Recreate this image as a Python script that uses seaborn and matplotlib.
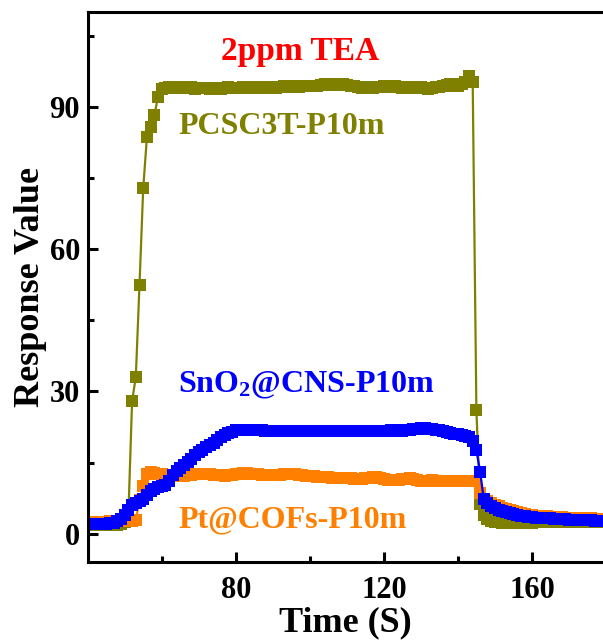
import matplotlib
matplotlib.use('Agg')
import matplotlib.pyplot as plt
import seaborn as sns

# ---------------- data ----------------
TIME_S = [
    41, 42, 43, 44, 45, 46, 47, 48, 49, 50,
    51, 52, 53, 54, 55, 56, 57, 58, 59, 60,
    61, 62, 63, 64, 65, 66, 67, 68, 69, 70,
    71, 72, 73, 74, 75, 76, 77, 78, 79, 80,
    81, 82, 83, 84, 85, 86, 87, 88, 89, 90,
    91, 92, 93, 94, 95, 96, 97, 98, 99, 100,
    101, 102, 103, 104, 105, 106, 107, 108, 109, 110,
    111, 112, 113, 114, 115, 116, 117, 118, 119, 120,
    121, 122, 123, 124, 125, 126, 127, 128, 129, 130,
    131, 132, 133, 134, 135, 136, 137, 138, 139, 140,
    141, 142, 143, 144, 145, 146, 147, 148, 149, 150,
    151, 152, 153, 154, 155, 156, 157, 158, 159, 160,
    161, 162, 163, 164, 165, 166, 167, 168, 169, 170,
    171, 172, 173, 174, 175, 176, 177, 178, 179, 180,
]

PCSC3T = [
    1.8, 1.8, 1.8, 1.8, 1.8, 1.8, 1.9, 1.9, 2.0, 2.5,
    4.1, 28.0, 33.0, 52.5, 72.8, 83.6, 85.8, 88.3, 92.0, 93.8,
    94.0, 94.1, 93.9, 94.0, 94.1, 93.9, 94.0, 94.1, 93.8, 94.0,
    93.9, 94.0, 93.8, 93.9, 94.0, 93.8, 93.9, 94.1, 93.9, 94.0,
    93.9, 94.1, 94.0, 93.9, 94.1, 94.2, 94.0, 93.9, 94.1, 94.2,
    94.0, 94.1, 94.3, 94.2, 94.4, 94.3, 94.2, 94.3, 94.5, 94.4,
    94.3, 94.5, 94.6, 94.8, 94.7, 94.9, 94.8, 94.7, 94.8, 94.6,
    94.5, 94.3, 94.2, 94.0, 94.1, 93.9, 94.0, 94.2, 94.1, 94.3,
    94.2, 94.1, 94.3, 94.2, 94.0, 94.1, 94.2, 93.9, 94.0, 94.1,
    93.9, 93.8, 94.0, 94.2, 94.1, 94.3, 94.6, 94.8, 94.5, 94.4,
    94.9, 95.3, 96.5, 95.3, 26.0, 6.3, 4.0, 3.0, 2.6, 2.4,
    2.4, 2.3, 2.3, 2.3, 2.3, 2.3, 2.3, 2.3, 2.3, 2.3,
    2.35, 2.35, 2.35, 2.35, 2.35, 2.35, 2.4, 2.4, 2.4, 2.4,
    2.5, 2.5, 2.5, 2.5, 2.5, 2.5, 2.5, 2.5, 2.5, 2.5,
]

PT_COFS = [
    2.5, 2.5, 2.5, 2.5, 2.5, 2.6, 2.6, 2.6, 2.6, 2.7,
    2.7, 2.7, 2.8, 7.0, 10.1, 12.6, 12.9, 12.7, 12.6, 12.5,
    12.4, 12.4, 12.3, 12.3, 12.2, 12.2, 12.3, 12.4, 12.5, 12.6,
    12.6, 12.5, 12.5, 12.4, 12.3, 12.3, 12.2, 12.3, 12.4, 12.5,
    12.6, 12.7, 12.7, 12.6, 12.6, 12.5, 12.4, 12.4, 12.3, 12.3,
    12.4, 12.4, 12.5, 12.6, 12.6, 12.5, 12.4, 12.3, 12.2, 12.1,
    12.1, 12.0, 12.0, 11.9, 11.9, 11.8, 11.8, 11.7, 11.7, 11.7,
    11.7, 11.6, 11.6, 11.6, 11.7, 11.8, 11.9, 11.9, 11.7, 11.5,
    11.4, 11.3, 11.3, 11.4, 11.5, 11.6, 11.7, 11.5, 11.3, 11.2,
    11.2, 11.2, 11.3, 11.2, 11.2, 11.1, 11.1, 11.2, 11.1, 11.1,
    11.2, 11.2, 11.1, 11.1, 11.0, 8.6, 7.3, 6.8, 6.4, 6.1,
    5.8, 5.4, 5.1, 4.9, 4.7, 4.5, 4.3, 4.15, 4.0, 3.9,
    3.8, 3.75, 3.7, 3.65, 3.6, 3.55, 3.5, 3.45, 3.4, 3.35,
    3.3, 3.3, 3.25, 3.25, 3.2, 3.2, 3.15, 3.15, 3.1, 3.1,
]

SNO2_CNS = [
    2.0, 2.0, 2.0, 2.1, 2.1, 2.2, 2.3, 2.6, 3.0, 3.9,
    5.0, 6.1, 6.5, 6.9, 7.3, 8.1, 8.9, 9.4, 9.8, 10.0,
    10.2, 11.2, 12.3, 13.2, 13.9, 14.4, 15.1, 15.8, 16.5, 17.2,
    17.7, 18.2, 18.6, 19.2, 19.8, 20.4, 20.8, 21.2, 21.5, 21.8,
    21.9, 21.9, 21.9, 21.9, 21.8, 21.8, 21.8, 21.7, 21.7, 21.7,
    21.7, 21.7, 21.7, 21.6, 21.6, 21.6, 21.6, 21.7, 21.7, 21.7,
    21.7, 21.7, 21.6, 21.6, 21.6, 21.7, 21.7, 21.7, 21.7, 21.6,
    21.6, 21.6, 21.7, 21.7, 21.7, 21.7, 21.6, 21.6, 21.7, 21.7,
    21.7, 21.8, 21.8, 21.7, 21.7, 21.8, 21.9, 22.0, 22.1, 22.2,
    22.2, 22.1, 22.0, 21.9, 21.8, 21.6, 21.4, 21.2, 21.1, 21.0,
    20.8, 20.6, 20.3, 19.6, 17.6, 13.1, 7.2, 6.4, 5.8, 5.4,
    5.0, 4.75, 4.5, 4.3, 4.1, 3.95, 3.8, 3.7, 3.6, 3.5,
    3.4, 3.35, 3.3, 3.25, 3.2, 3.15, 3.1, 3.05, 3.0, 2.95,
    2.9, 2.9, 2.85, 2.85, 2.8, 2.8, 2.75, 2.75, 2.7, 2.7,
]

SERIES_NAMES = ["PCSC3T-P10m", "Pt@COFs-P10m", "SnO$_2$@CNS-P10m"]
SERIES_COLORS = ["#808000", "#FF8000", "#0000FF"]
TITLE_TEXT = "2ppm TEA"
X_LABEL = "Time (S)"
Y_LABEL = "Response Value"
X_TICKS = [80, 120, 160]
X_MINOR = [60, 100, 140]
Y_TICKS = [0, 30, 60, 90]
Y_MINOR = [15, 45, 75, 105]

# ---------------- style ----------------
sns.set_theme(style="white")
plt.rcParams["font.family"] = ["Liberation Serif", "DejaVu Serif"]
plt.rcParams["font.weight"] = "bold"
plt.rcParams["text.color"] = "black"
plt.rcParams["axes.labelcolor"] = "black"
plt.rcParams["xtick.color"] = "black"
plt.rcParams["ytick.color"] = "black"
plt.rcParams["mathtext.fontset"] = "custom"
plt.rcParams["mathtext.rm"] = "Liberation Serif:bold"
plt.rcParams["mathtext.it"] = "Liberation Serif:bold"
plt.rcParams["mathtext.bf"] = "Liberation Serif:bold"
plt.rcParams["mathtext.default"] = "rm"

fig = plt.figure(figsize=(6.03, 6.42), dpi=100, facecolor="white")
ax = fig.add_axes([0.1454, 0.1252, 0.8546, 0.8561])
ax.set_facecolor("white")

for vals, color in [(PCSC3T, SERIES_COLORS[0]), (PT_COFS, SERIES_COLORS[1]), (SNO2_CNS, SERIES_COLORS[2])]:
    sns.lineplot(x=TIME_S, y=vals, ax=ax, color=color, marker="s", markersize=8.8,
                 markeredgewidth=0, linewidth=1.6, errorbar=None, sort=False)

ax.set_xlim(40, 179.2)
ax.set_ylim(-5.9, 110)

ax.set_xticks(X_TICKS)
ax.set_xticks(X_MINOR, minor=True)
ax.set_yticks(Y_TICKS)
ax.set_yticks(Y_MINOR, minor=True)

for side in ["left", "bottom", "top"]:
    ax.spines[side].set_visible(True)
    ax.spines[side].set_linewidth(2.2)
    ax.spines[side].set_color("black")
ax.spines["right"].set_visible(False)

ax.tick_params(axis="both", which="major", direction="in", length=7, width=2.2,
               colors="black", labelcolor="black", labelsize=22)
ax.tick_params(axis="both", which="minor", direction="in", length=4, width=2.2, colors="black")
ax.tick_params(axis="x", which="major", pad=10.5, bottom=True, top=False)
ax.tick_params(axis="x", which="minor", bottom=True, top=False)
ax.tick_params(axis="y", which="major", pad=5.5, left=True, right=False)
ax.tick_params(axis="y", which="minor", left=True, right=False)
for lab in ax.get_xticklabels() + ax.get_yticklabels():
    lab.set_fontweight("bold")

ax.set_xlabel(X_LABEL, fontsize=26, fontweight="bold", color="black")
ax.set_ylabel(Y_LABEL, fontsize=26, fontweight="bold", color="black")
ax.xaxis.set_label_coords(0.5, -0.081)
ax.yaxis.set_label_coords(-0.079, 0.5)

ax.text(97.5, 99.8, TITLE_TEXT, color="#FF0000", fontsize=24, fontweight="bold",
        ha="center", va="baseline")
ax.text(64.4, 84.3, SERIES_NAMES[0], color=SERIES_COLORS[0], fontsize=23,
        fontweight="bold", ha="left", va="baseline")
ax.text(64.4, 29.7, SERIES_NAMES[2], color=SERIES_COLORS[2], fontsize=23,
        fontweight="bold", ha="left", va="baseline")
ax.text(64.4, 1.25, SERIES_NAMES[1], color=SERIES_COLORS[1], fontsize=23,
        fontweight="bold", ha="left", va="baseline")

fig.savefig("out.png", dpi=100, facecolor="white")
